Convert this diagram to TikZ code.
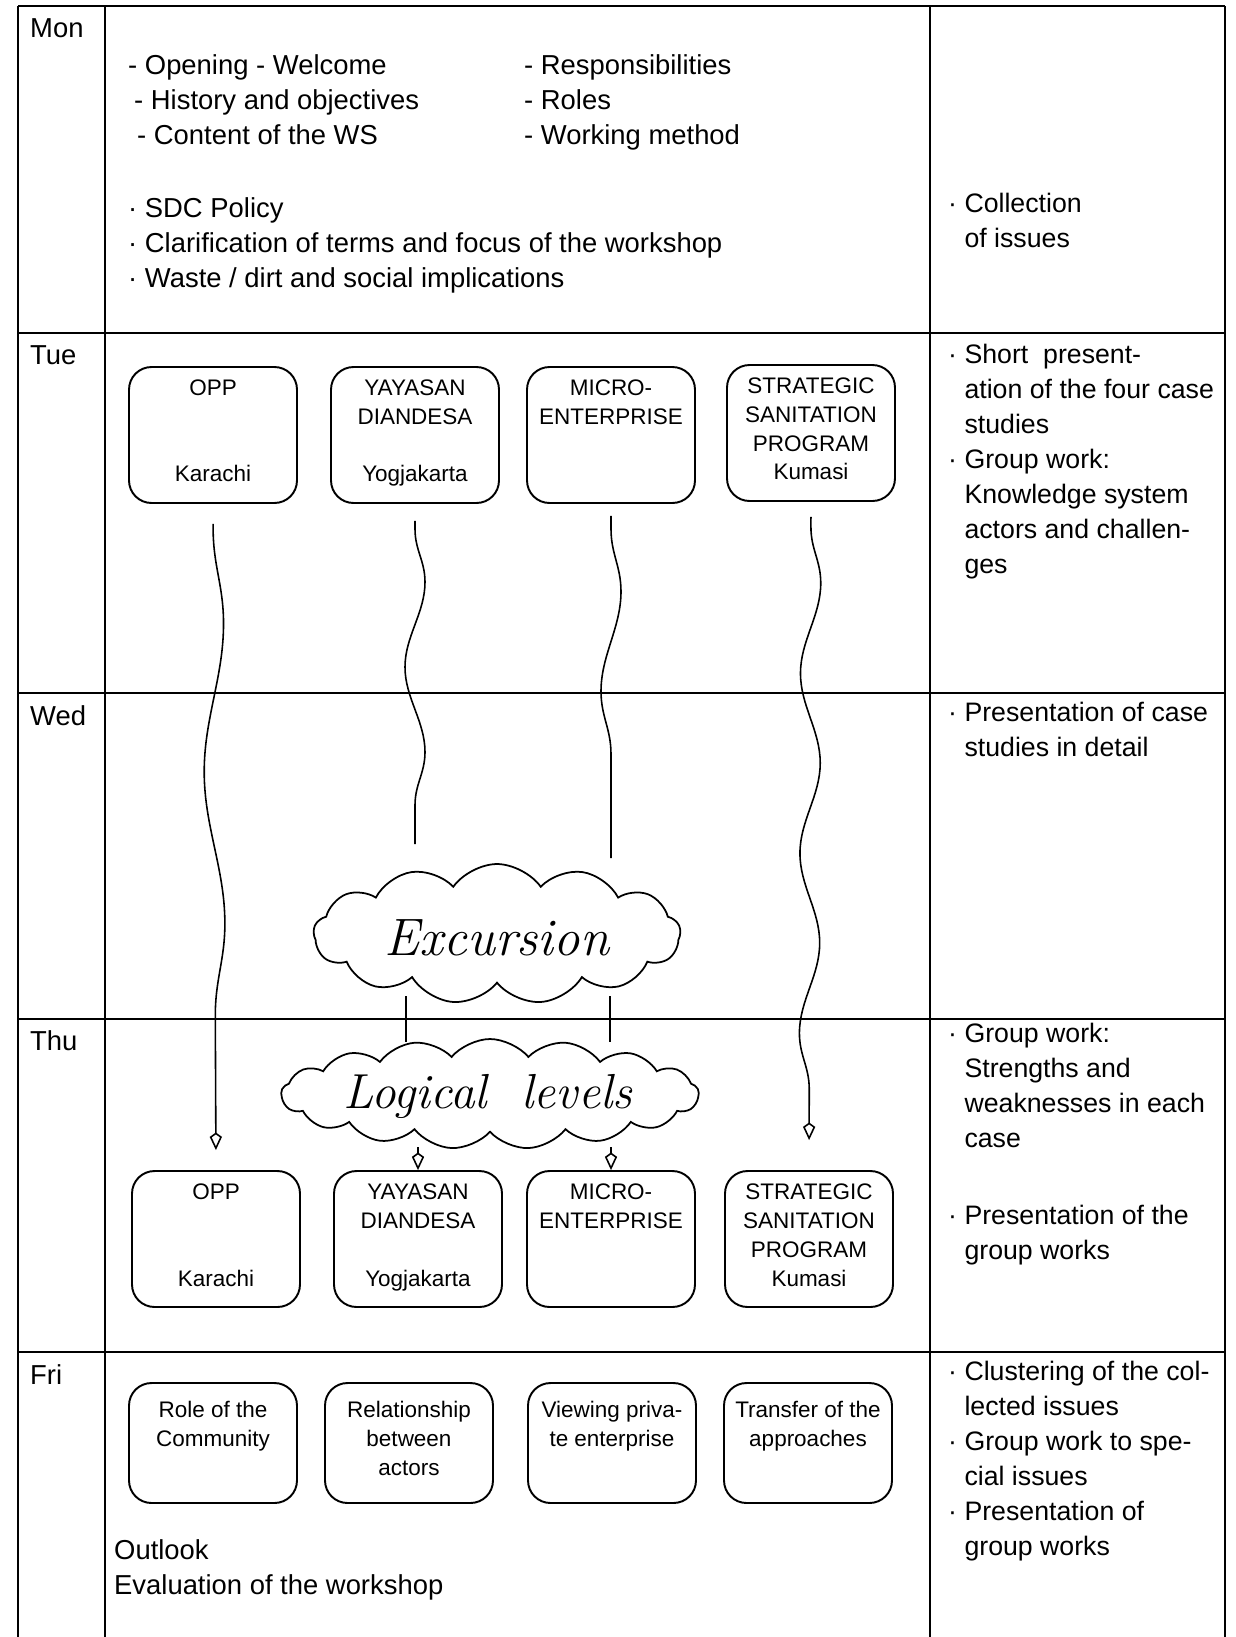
\documentclass[tikz,border=0pt]{standalone}
\usepackage{fontspec}
\setsansfont{Liberation Sans}
\usetikzlibrary{shapes.symbols}
\usetikzlibrary{calc}
\usetikzlibrary{decorations.pathmorphing}
\usetikzlibrary{arrows.meta}

\newcommand{\ind}{\hphantom{·\ }}

\tikzset{
  grid/.style={line width=1pt},
  item/.style={anchor=base west, align=left, font=\sffamily\fontsize{15.6}{19.9}\selectfont},
  note/.style={anchor=base west, align=left, font=\sffamily\fontsize{15.2}{19.9}\selectfont},
  casebox/.style={draw, line width=1.1pt, rounded corners=0.45cm, minimum width=3.36cm,
    minimum height=2.72cm, align=center, font=\sffamily\fontsize{12.8}{16.5}\selectfont,
    execute at begin node=\strut, execute at end node=\strut},
  topicbox/.style={casebox, minimum height=2.4cm},
  bubble/.style={draw, line width=1pt, cloud, cloud puffs=13, cloud puff arc=110,
    cloud ignores aspect, inner sep=0pt},
  hand/.style={font=\rmfamily\itshape\fontsize{30}{36}\selectfont},
  wavy/.style={line width=0.9pt, decorate, decoration={snake, amplitude=0.2cm,
    segment length=#1, pre length=0.5cm, post length=0.5cm}},
  wavy/.default=4cm,
  tip/.style={-{Kite[open, length=10pt, width=7pt]}},
}

\begin{document}
\begin{tikzpicture}[x=0.02cm, y=-0.02cm]
  \useasboundingbox (0,0) rectangle (1235,1637);

  % table
  \foreach \y in {6,333,693,1019,1352}
    \draw[grid] (18,\y) -- (1225,\y);
  \foreach \x in {18,105,930,1225}
    \draw[grid] (\x,6) -- (\x,1637);

  \foreach \d/\y in {Mon/37, Tue/364, Wed/725, Thu/1050, Fri/1384}
    \node[item] (\d) at (24,\y) {\d};

  % Monday (multi-line notes sit on their last line)
  \node[item] (open) at (122,74) {- Opening - Welcome};
  \node[item] (hist) at (128,109) {- History and objectives};
  \node[item] (content) at (131,144) {- Content of the WS};
  \node[item] (resp) at (518,74) {- Responsibilities};
  \node[item] (roles) at (518,109) {- Roles};
  \node[item] (method) at (518,144) {- Working method};
  \node[item] (sdc) at (122,217) {· SDC Policy};
  \node[item] (terms) at (122,252) {· Clarification of terms and focus of the workshop};
  \node[item] (waste) at (122,287) {· Waste / dirt and social implications};
  \node[note] (monnote) at (942,247) {· Collection\\\ind of issues};

  % Tuesday
  \node[casebox] (opp1) at (213,435) {OPP\\~\\~\\Karachi};
  \node[casebox] (yay1) at (415,435) {YAYASAN\\DIANDESA\\~\\Yogjakarta};
  \node[casebox] (micro1) at (611,435) {MICRO-\\ENTERPRISE\\~\\~};
  \node[casebox] (ssp1) at (811,433) {STRATEGIC\\SANITATION\\PROGRAM\\Kumasi};
  \node[note] (tuenote) at (942,573) {· Short\ \ present-\\\ind ation of the four case\\\ind studies\\· Group work:\\\ind Knowledge system\\\ind actors and challen-\\\ind ges};

  % Wednesday
  \node[note] (wednote) at (942,756) {· Presentation of case\\\ind studies in detail};
  \node[bubble, minimum width=7.34cm, minimum height=2.8cm] (excursion) at (497,934) {};
  \node[hand] (exctext) at (497,938) {Excursion};
  \coordinate (exctop) at ($(excursion.center)+(0,-70)$);
  \coordinate (excbase) at ($(excursion.center)+(0,62)$);

  % Thursday
  \node[bubble, cloud puffs=17, cloud puff arc=100, minimum width=8.35cm, minimum height=2.2cm] (logic) at (490,1094) {};
  \node[hand, font=\rmfamily\itshape\fontsize{28}{34}\selectfont] (logictext) at (488,1096) {Logical\ \ levels};
  \coordinate (logictop) at ($(logic.center)+(0,-52)$);
  \coordinate (logicbase) at ($(logic.center)+(0,53)$);
  \node[casebox] (opp2) at (216,1239) {OPP\\~\\~\\Karachi};
  \node[casebox] (yay2) at (418,1239) {YAYASAN\\DIANDESA\\~\\Yogjakarta};
  \node[casebox] (micro2) at (611,1239) {MICRO-\\ENTERPRISE\\~\\~};
  \node[casebox] (ssp2) at (809,1239) {STRATEGIC\\SANITATION\\PROGRAM\\Kumasi};
  \node[note] (thunote) at (942,1147) {· Group work:\\\ind Strengths and\\\ind weaknesses in each\\\ind case};
  \node[note] (thunote2) at (942,1259) {· Presentation of the\\\ind group works};

  % Friday
  \node[topicbox] (role) at (213,1443) {Role of the\\Community\\~};
  \node[topicbox] (rel) at (409,1443) {Relationship\\between\\actors};
  \node[topicbox] (view) at (612,1443) {Viewing priva-\\te enterprise\\~};
  \node[topicbox] (transfer) at (808,1443) {Transfer of the\\approaches\\~};
  \node[item] (outlook) at (108,1594) {Outlook\\Evaluation of the workshop};
  \node[note] (frinote) at (942,1555) {· Clustering of the col-\\\ind lected issues\\· Group work to spe-\\\ind cial issues\\· Presentation of\\\ind group works};

  % connectors
  \draw[wavy=6cm, tip, shorten <=0.4cm, shorten >=0.4cm] (opp1.south) -- (opp2.north);
  \draw[wavy=3.4cm, shorten <=0.34cm, shorten >=0.4cm] (yay1.south) -- (exctop -| yay1.south);
  \draw[wavy=4cm, shorten <=0.24cm, shorten >=0.12cm] (micro1.south) -- (exctop -| micro1.south);
  \draw[wavy=3.6cm, tip, shorten <=0.3cm, shorten >=0.6cm] (ssp1.south) -- (ssp2.north);
  \draw[line width=0.9pt] ($(excbase)+(-91,0)$) -- ($(logictop)+(-84,0)$);
  \draw[line width=0.9pt] ($(excbase)+(113,0)$) -- ($(logictop)+(120,0)$);
  \draw[line width=0.9pt, tip] (logicbase -| yay2.north) -- (yay2.north);
  \draw[line width=0.9pt, tip] (logicbase -| micro2.north) -- (micro2.north);
\end{tikzpicture}
\end{document}
